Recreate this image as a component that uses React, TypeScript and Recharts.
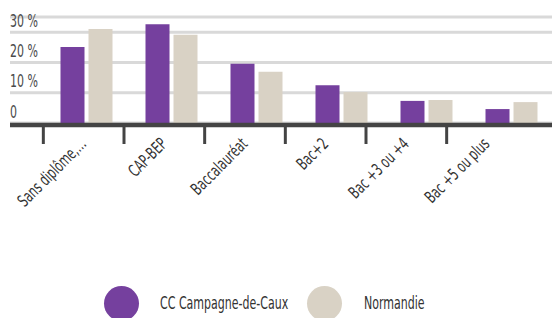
import React from 'react';
import { BarChart, Bar, XAxis, YAxis, CartesianGrid, Legend } from 'recharts';

const categories = [
  'Sans diplôme,…',
  'CAP-BEP',
  'Baccalauréat',
  'Bac+2',
  'Bac +3 ou +4',
  'Bac +5 ou plus',
];
const ccValues = [25.1, 32.6, 19.6, 12.5, 7.3, 4.6];
const normandieValues = [31.0, 29.1, 16.9, 10.2, 7.6, 6.9];
const yTicks = [0, 10, 20, 30];

const data = categories.map((cat, i) => ({
  cat,
  cc: ccValues[i],
  norm: normandieValues[i],
}));

const PURPLE = '#75409e';
const BEIGE = '#d9d2c5';
const DARK = '#444444';
const FONT = "'DejaVu Sans Condensed', 'DejaVu Sans', sans-serif";
const SQUEEZE = 0.72; // narrow the glyphs to look like a condensed face

const YTick = (props: any) => {
  const { x, y, payload } = props;
  const v = payload.value;
  return (
    <g transform={`translate(${x},${y - 5.5}) scale(${SQUEEZE},1)`}>
      <text x={0} y={0} textAnchor="start" fill="#4a4a4a" fontSize={17} fontFamily={FONT}>
        {v === 0 ? '0' : `${v} %`}
      </text>
    </g>
  );
};

// tick mark sits at the left edge of each label band, label hangs off its centre
const XTick = (props: any) => {
  const { x, y, payload } = props;
  const tx = x + 2;
  const ty = y + 20;
  return (
    <g>
      <line x1={x - 42} x2={x - 42} y1={y + 1} y2={y + 19} stroke={DARK} strokeWidth={3} />
      <g transform={`translate(${tx},${ty}) rotate(-45) scale(${SQUEEZE},1)`}>
        <text x={0} y={0} textAnchor="end" fill="#333" fontSize={17} fontFamily={FONT}>
          {payload.value}
        </text>
      </g>
    </g>
  );
};

const LegendContent = (props: any) => {
  const items = props.payload || [];
  return (
    <div style={{ display: 'flex', alignItems: 'center', fontFamily: FONT, fontSize: 17, color: '#333' }}>
      {items.map((it: any, i: number) => (
        <div key={i} style={{ display: 'flex', alignItems: 'center', width: i === 0 ? 203.5 : 140 }}>
          <div style={{ flex: 'none', width: 35, height: 35, borderRadius: '50%', background: it.color, marginRight: 21.5 }} />
          <span style={{ whiteSpace: 'nowrap', display: 'inline-block', transform: `scaleX(${SQUEEZE})`, transformOrigin: 'left center' }}>
            {it.value}
          </span>
        </div>
      ))}
    </div>
  );
};

export default function App() {
  return (
    <div style={{ position: 'absolute', left: 0, top: 0, width: 552, height: 318, overflow: 'hidden', background: '#fff' }}>
      <BarChart
        width={554}
        height={318}
        data={data}
        margin={{ top: 17, right: 0, left: 9, bottom: 93 }}
        barSize={24}
        barGap={4}
      >
        <CartesianGrid vertical={false} stroke="#d9d9d9" strokeWidth={3} />
        {/* bars and labels use separate band scales, as in the original */}
        <XAxis
          xAxisId="bars"
          dataKey="cat"
          padding={{ left: 33.5, right: 0.5 }}
          tick={false}
          tickLine={false}
          axisLine={false}
          height={2}
        />
        <XAxis
          xAxisId="lab"
          dataKey="cat"
          padding={{ left: 35, right: 25 }}
          interval={0}
          tickLine={false}
          tickSize={0}
          tickMargin={0}
          axisLine={{ stroke: DARK, strokeWidth: 4.5 }}
          tick={<XTick />}
          height={100}
        />
        <YAxis
          domain={[0, 35]}
          ticks={yTicks}
          width={1}
          tickSize={0}
          tickMargin={0}
          tickLine={false}
          axisLine={false}
          tick={<YTick />}
          interval={0}
        />
        <Bar xAxisId="bars" dataKey="cc" name="CC Campagne-de-Caux" fill={PURPLE} isAnimationActive={false} />
        <Bar xAxisId="bars" dataKey="norm" name="Normandie" fill={BEIGE} isAnimationActive={false} />
        <Legend
          layout="horizontal"
          verticalAlign="middle"
          content={<LegendContent />}
          wrapperStyle={{ position: 'absolute', left: 103.5, top: 285.8, width: 'auto', height: 35 }}
        />
      </BarChart>
    </div>
  );
}
